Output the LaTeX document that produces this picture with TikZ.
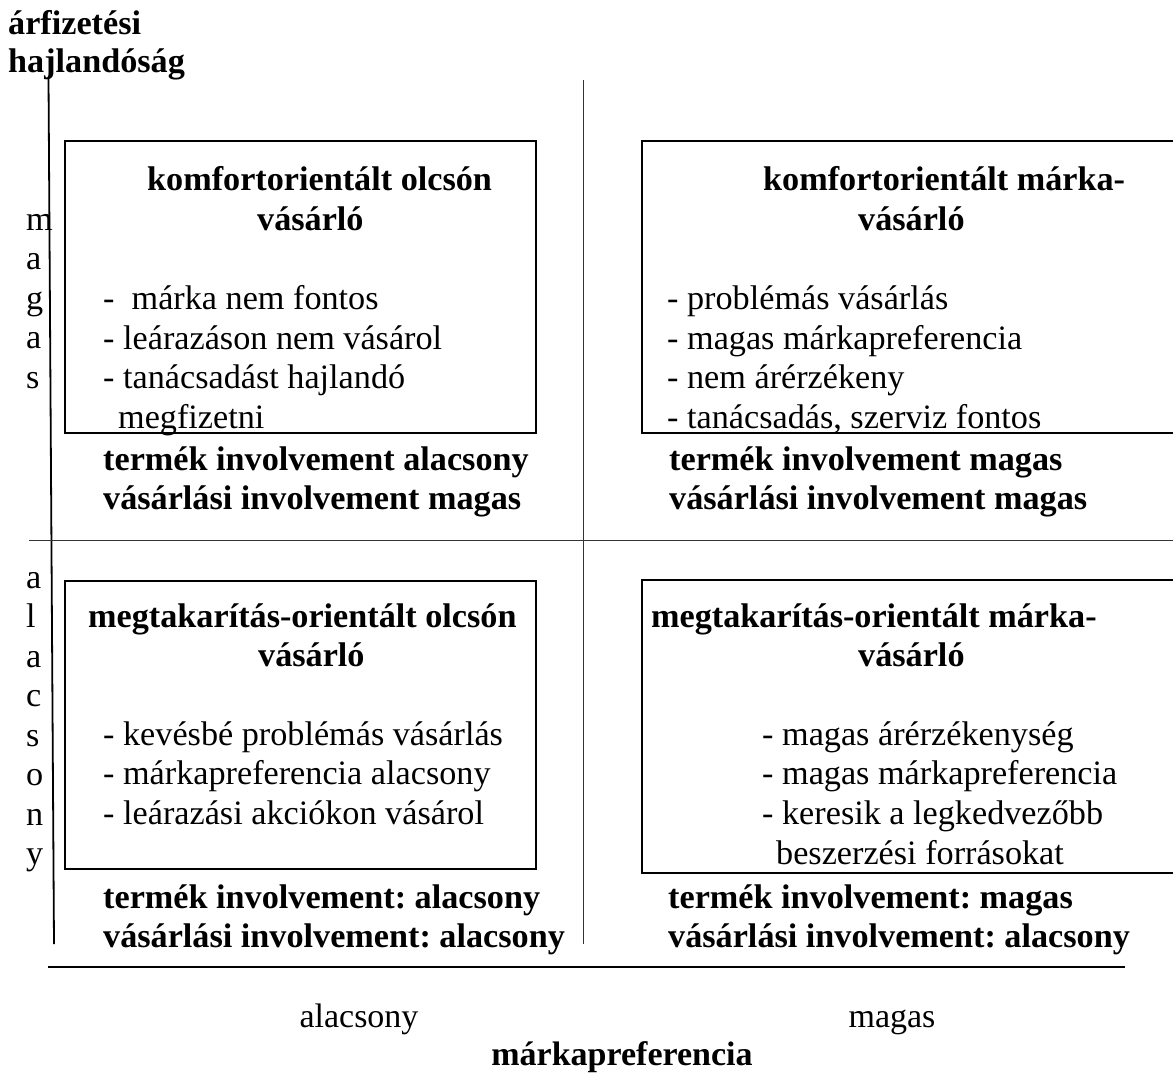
\documentclass[tikz,border=0pt]{standalone}
\usepackage{fontspec}
\setmainfont{Liberation Serif}
\frenchspacing
\begin{document}
\begin{tikzpicture}[x=1pt,y=-1pt,
  txt/.style={anchor=base west, inner sep=0pt, font=\fontsize{34.2}{39.5}\selectfont},
  btxt/.style={txt, font=\fontsize{34.2}{39.5}\selectfont\bfseries},
  ctxt/.style={anchor=base, inner sep=0pt, font=\fontsize{34}{39.5}\selectfont},
  bctxt/.style={ctxt, font=\fontsize{34}{39.5}\selectfont\bfseries},
  quad/.style={draw, line width=1.7pt, inner sep=0pt, anchor=north west},
  axis/.style={line width=1.8pt},
  divider/.style={line width=1pt, draw=black!80}]
\useasboundingbox (0,0) rectangle (1173,1074);

% axis title
\node[btxt] (ytitleA) at (8,34) {árfizetési};
\node[btxt] (ytitleB) at (8,72) {hajlandóság};

% axes and quadrant dividers
\coordinate (yTop) at (48.5,78);
\coordinate (yBot) at (54,944);
\coordinate (xL) at (48,967);
\coordinate (xR) at (1125,967);
\coordinate (vTop) at (583,80);
\coordinate (vBot) at (583,944);
\coordinate (hL) at (29,540);
\coordinate (hR) at (1180,540);
\draw[axis] (yTop) -- (yBot);
\draw[axis, line width=2.2pt] (xL) -- (xR);
\draw[divider] (vTop) -- (vBot);
\draw[divider] (hL) -- (hR);

% quadrant frames
\node[quad, minimum width=471, minimum height=292] (boxTL) at (64,140) {};
\node[quad, minimum width=560, minimum height=292] (boxTR) at (641,140) {};
\node[quad, minimum width=471, minimum height=288] (boxBL) at (64,580) {};
\node[quad, minimum width=560, minimum height=293] (boxBR) at (641,579) {};

% vertical scale labels
\foreach \ch [count=\i from 0] in {m,a,g,a,s}
  \node[txt] (hi\i) at (26,230+39.5*\i) {\ch};
\foreach \ch [count=\i from 0] in {a,l,a,c,s,o,n,y}
  \node[txt] (lo\i) at (26,588+39.5*\i) {\ch};

% top left quadrant
\node[btxt] (tlH1) at (147,190) {komfortorientált olcsón};
\node[btxt] (tlH2) at (257,230) {vásárló};
\node[txt] (tlL1) at (103,309) {-\ \ márka nem fontos};
\node[txt] (tlL2) at (103,349) {- leárazáson nem vásárol};
\node[txt] (tlL3) at (103,388) {- tanácsadást hajlandó};
\node[txt] (tlL4) at (118,428) {megfizetni};
\node[btxt] (tlB1) at (103,470) {termék involvement alacsony};
\node[btxt] (tlB2) at (103,509) {vásárlási involvement magas};

% top right quadrant
\node[btxt] (trH1) at (763,190) {komfortorientált márka-};
\node[btxt] (trH2) at (858,230) {vásárló};
\node[txt] (trL1) at (667,309) {- problémás vásárlás};
\node[txt] (trL2) at (667,349) {- magas márkapreferencia};
\node[txt] (trL3) at (667,388) {- nem árérzékeny};
\node[txt] (trL4) at (667,428) {- tanácsadás, szerviz fontos};
\node[btxt] (trB1) at (669,470) {termék involvement magas};
\node[btxt] (trB2) at (669,509) {vásárlási involvement magas};

% bottom left quadrant
\node[btxt] (blH1) at (88,627) {megtakarítás-orientált olcsón};
\node[btxt] (blH2) at (258,666) {vásárló};
\node[txt] (blL1) at (103,745) {- kevésbé problémás vásárlás};
\node[txt] (blL2) at (103,784) {- márkapreferencia alacsony};
\node[txt] (blL3) at (103,824) {- leárazási akciókon vásárol};
\node[btxt] (blB1) at (103,908) {termék involvement: alacsony};
\node[btxt] (blB2) at (103,947) {vásárlási involvement: alacsony};

% bottom right quadrant
\node[btxt] (brH1) at (651,627) {megtakarítás-orientált márka-};
\node[btxt] (brH2) at (858,666) {vásárló};
\node[txt] (brL1) at (762,745) {- magas árérzékenység};
\node[txt] (brL2) at (762,784) {- magas márkapreferencia};
\node[txt] (brL3) at (762,824) {- keresik a legkedvezőbb};
\node[txt] (brL4) at (776,864) {beszerzési forrásokat};
\node[btxt] (brB1) at (668,908) {termék involvement: magas};
\node[btxt] (brB2) at (668,947) {vásárlási involvement: alacsony};

% horizontal scale labels and axis title
\node[ctxt] (xLow) at (359,1027) {alacsony};
\node[ctxt] (xHigh) at (892,1027) {magas};
\node[bctxt] (xTitle) at (622,1065) {márkapreferencia};
\end{tikzpicture}
\end{document}
